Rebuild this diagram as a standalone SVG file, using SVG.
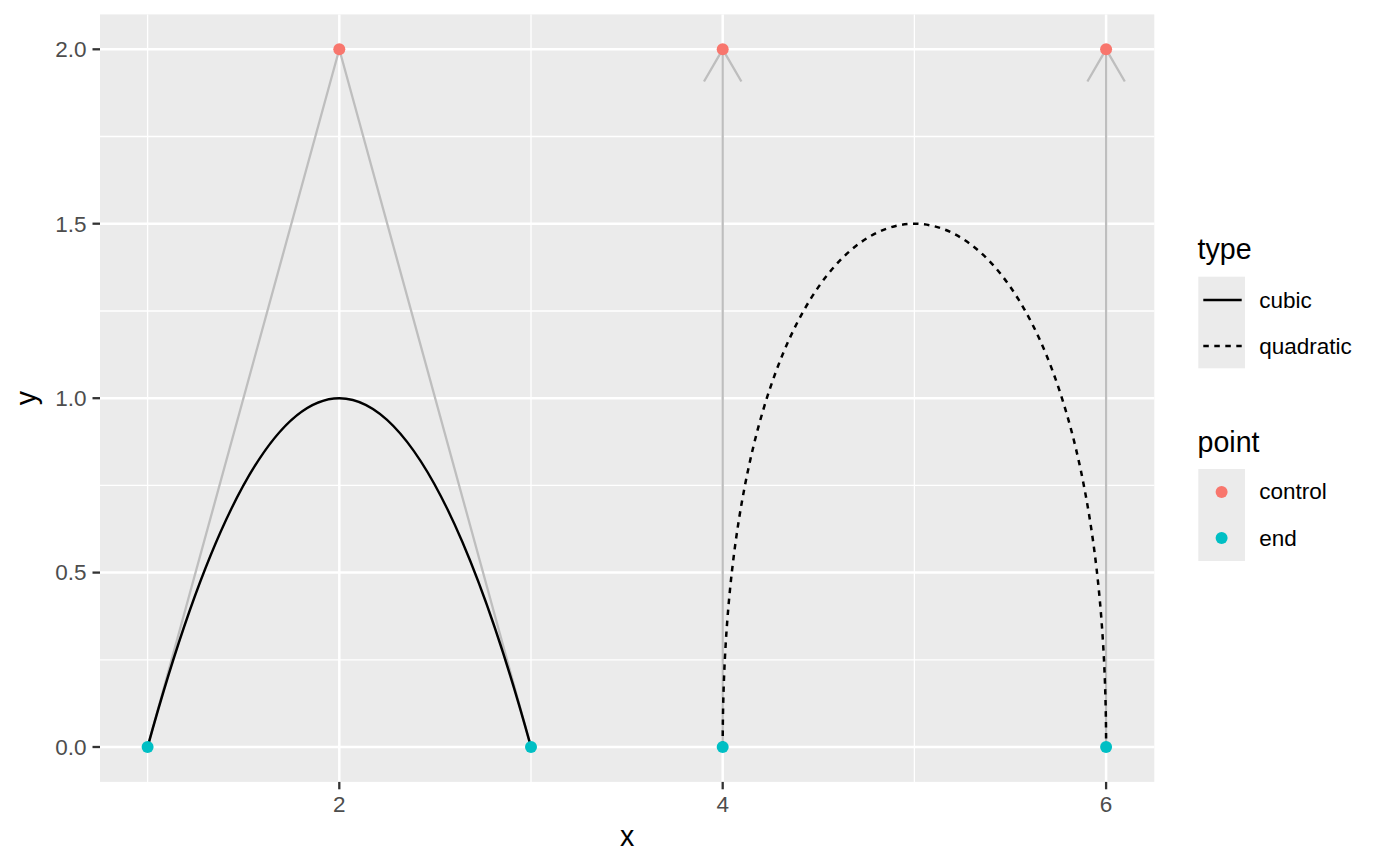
<svg xmlns="http://www.w3.org/2000/svg" width="1400" height="866" viewBox="0 0 1400 866">
<style>
.bg{fill:#FFFFFF}
.panel{fill:#EBEBEB}
.gmaj{stroke:#FFFFFF;stroke-width:2.5;fill:none}
.gmin{stroke:#FFFFFF;stroke-width:1.3;fill:none}
.tick{stroke:#333333;stroke-width:2.3}
.tl{font-family:"Liberation Sans",Arial,sans-serif;font-size:22.5px;fill:#4D4D4D}
.title{font-family:"Liberation Sans",Arial,sans-serif;font-size:28.6px;fill:#000000}
.lt{font-family:"Liberation Sans",Arial,sans-serif;font-size:22.5px;fill:#000000}
.ctrl{stroke:#BEBEBE;stroke-width:2.3;fill:none}
.curve{stroke:#000000;stroke-width:2.5;fill:none}
.dash{stroke-dasharray:5.5 5.5}
.pc{fill:#F8766D}
.pe{fill:#00BFC4}
.key{fill:#EBEBEB}
</style>
<rect class="bg" x="0" y="0" width="1400" height="866"/>
<g id="panel">
<rect class="panel" x="100" y="14.4" width="1054.3" height="767.5"/>
<g id="grid-minor">
<line class="gmin" x1="100" x2="1154.3" y1="659.8" y2="659.8"/>
<line class="gmin" x1="100" x2="1154.3" y1="485.4" y2="485.4"/>
<line class="gmin" x1="100" x2="1154.3" y1="311" y2="311"/>
<line class="gmin" x1="100" x2="1154.3" y1="136.5" y2="136.5"/>
<line class="gmin" x1="147.6" x2="147.6" y1="14.4" y2="781.9"/>
<line class="gmin" x1="531" x2="531" y1="14.4" y2="781.9"/>
<line class="gmin" x1="914.4" x2="914.4" y1="14.4" y2="781.9"/>
</g>
<g id="grid-major">
<line class="gmaj" x1="100" x2="1154.3" y1="747" y2="747"/>
<line class="gmaj" x1="100" x2="1154.3" y1="572.6" y2="572.6"/>
<line class="gmaj" x1="100" x2="1154.3" y1="398.2" y2="398.2"/>
<line class="gmaj" x1="100" x2="1154.3" y1="223.7" y2="223.7"/>
<line class="gmaj" x1="100" x2="1154.3" y1="49.3" y2="49.3"/>
<line class="gmaj" x1="339.3" x2="339.3" y1="14.4" y2="781.9"/>
<line class="gmaj" x1="722.7" x2="722.7" y1="14.4" y2="781.9"/>
<line class="gmaj" x1="1106.1" x2="1106.1" y1="14.4" y2="781.9"/>
</g>
</g>
<g id="connectors">
<polyline class="ctrl" points="147.6,747 339.3,49.3 531,747"/>
<line class="ctrl" x1="722.7" y1="747" x2="722.7" y2="49.3"/>
<polyline class="ctrl" points="704,81.5 722.7,49.3 741.4,81.5"/>
<line class="ctrl" x1="1106.1" y1="747" x2="1106.1" y2="49.3"/>
<polyline class="ctrl" points="1087.4,81.5 1106.1,49.3 1124.8,81.5"/>
<path id="curve-cubic" class="curve" d="M147.6,747 Q339.3,49.3 531,747"/>
<path id="curve-quadratic" class="curve dash" d="M722.7,747 C722.7,49.3 1106.1,49.3 1106.1,747"/>
</g>
<g id="points">
<g id="p-c1"><circle class="pc" cx="339.3" cy="49.3" r="6"/></g>
<g id="p-c2"><circle class="pc" cx="722.7" cy="49.3" r="6"/></g>
<g id="p-c3"><circle class="pc" cx="1106.1" cy="49.3" r="6"/></g>
<g id="p-e1"><circle class="pe" cx="147.6" cy="747" r="6"/></g>
<g id="p-e2"><circle class="pe" cx="531" cy="747" r="6"/></g>
<g id="p-e3"><circle class="pe" cx="722.7" cy="747" r="6"/></g>
<g id="p-e4"><circle class="pe" cx="1106.1" cy="747" r="6"/></g>
</g>
<g id="y-axis">
<line class="tick" x1="92.5" x2="100" y1="747" y2="747"/>
<line class="tick" x1="92.5" x2="100" y1="572.6" y2="572.6"/>
<line class="tick" x1="92.5" x2="100" y1="398.2" y2="398.2"/>
<line class="tick" x1="92.5" x2="100" y1="223.7" y2="223.7"/>
<line class="tick" x1="92.5" x2="100" y1="49.3" y2="49.3"/>
<text class="tl" x="86.5" y="754.8" text-anchor="end">0.0</text>
<text class="tl" x="86.5" y="580.4" text-anchor="end">0.5</text>
<text class="tl" x="86.5" y="406" text-anchor="end">1.0</text>
<text class="tl" x="86.5" y="231.5" text-anchor="end">1.5</text>
<text class="tl" x="86.5" y="57.1" text-anchor="end">2.0</text>
<text class="title" transform="translate(35.6,398.2) rotate(-90)" text-anchor="middle">y</text>
</g>
<g id="x-axis">
<line class="tick" x1="339.3" x2="339.3" y1="781.9" y2="789.3"/>
<line class="tick" x1="722.7" x2="722.7" y1="781.9" y2="789.3"/>
<line class="tick" x1="1106.1" x2="1106.1" y1="781.9" y2="789.3"/>
<text class="tl" x="339.3" y="812.3" text-anchor="middle">2</text>
<text class="tl" x="722.7" y="812.3" text-anchor="middle">4</text>
<text class="tl" x="1106.1" y="812.3" text-anchor="middle">6</text>
<text class="title" x="627.2" y="846" text-anchor="middle">x</text>
</g>
<g id="legend-type">
<text class="title" x="1197.5" y="259.3">type</text>
<rect class="key" x="1198.3" y="276.7" width="46.7" height="91.6"/>
<line class="curve" x1="1203.3" x2="1241.7" y1="300" y2="300"/>
<line class="curve dash" x1="1203.3" x2="1241.7" y1="346" y2="346"/>
<text class="lt" x="1259.3" y="308.3">cubic</text>
<text class="lt" x="1259.3" y="354">quadratic</text>
</g>
<g id="legend-point">
<text class="title" x="1197.5" y="451.7">point</text>
<rect class="key" x="1198.3" y="469" width="46.7" height="92"/>
<circle class="pc" cx="1221.6" cy="492" r="6"/>
<circle class="pe" cx="1221.6" cy="538" r="6"/>
<text class="lt" x="1259.3" y="499.3">control</text>
<text class="lt" x="1259.3" y="545.7">end</text>
</g>
</svg>
